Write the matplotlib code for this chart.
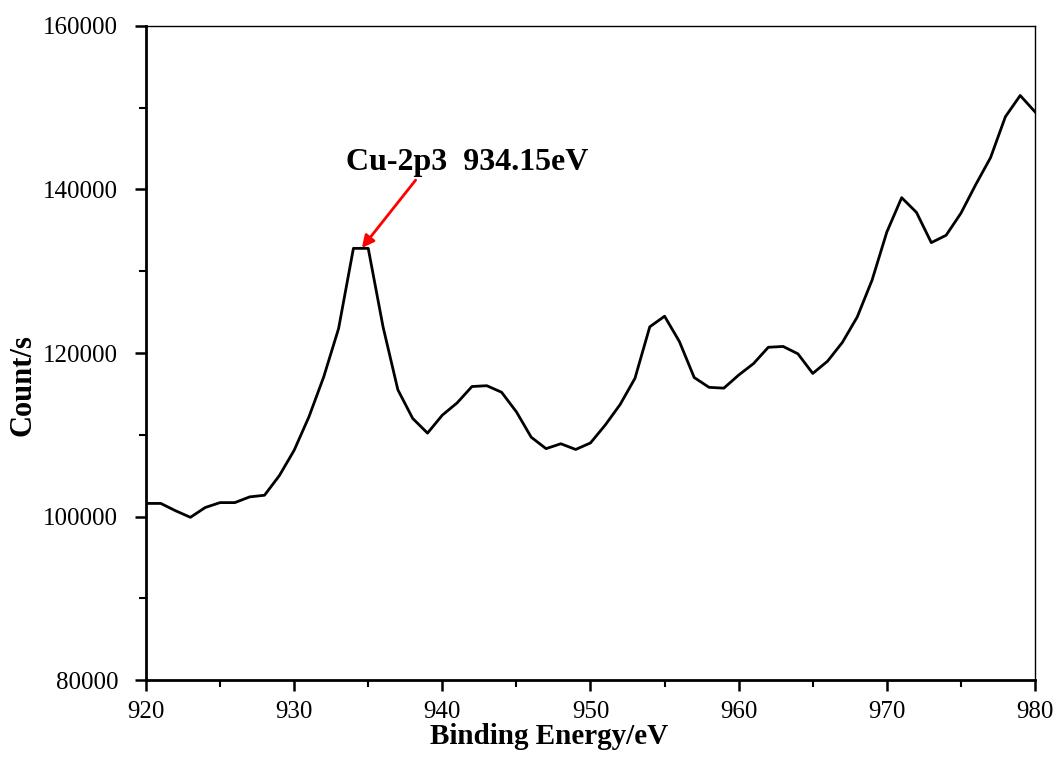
#XPS spectrum of Cu-2p region with labelled peak

import matplotlib
matplotlib.use('Agg')
import matplotlib.pyplot as plt
import numpy as np

#binding energy (eV) and counts
energy = np.arange(920, 981)
counts = [101600, 101600, 100700, 99900, 101100, 101700, 101700, 102400, 102600, 105000,
          108100, 112200, 117100, 123000, 132800, 132800, 123200, 115500, 112000, 110200,
          112400, 113900, 115900, 116000, 115200, 112800, 109700, 108300, 108900, 108200,
          109000, 111200, 113700, 116900, 123200, 124500, 121400, 117000, 115800, 115700,
          117300, 118700, 120700, 120800, 119900, 117500, 119000, 121300, 124400, 128900,
          134800, 139000, 137200, 133500, 134400, 137100, 140600, 143900, 148900, 151500,
          149500]

peak_label = 'Cu-2p3  934.15eV'
label_xy = (941.66, 142400)
arrow_tip = (934.57, 132850)
arrow_tail = (938.2, 141150)

plt.rcParams['font.family'] = ['Liberation Serif', 'DejaVu Serif']

fig = plt.figure(figsize=(10.57, 7.58), dpi=100)
ax = fig.add_axes([0.1381, 0.1029, 0.8411, 0.8628])

ax.plot(energy, counts, color='black', linewidth=2.0)

ax.set_xlim(920, 980)
ax.set_ylim(80000, 160000)
ax.set_xticks(np.arange(920, 981, 10))
ax.set_xticks(np.arange(925, 980, 10), minor=True)
ax.set_yticks(np.arange(80000, 160001, 20000))
ax.set_yticks(np.arange(90000, 160000, 20000), minor=True)

ax.tick_params(which='major', direction='out', length=8, width=1.8, labelsize=18,
               top=False, right=False)
ax.tick_params(which='minor', direction='out', length=5, width=1.5, top=False, right=False)
ax.tick_params(axis='x', pad=7)
ax.tick_params(axis='y', pad=12)

for side in ['left', 'bottom']:
    ax.spines[side].set_linewidth(2)
for side in ['top', 'right']:
    ax.spines[side].set_linewidth(1)

ax.set_xlabel('Binding Energy/eV', fontsize=21, fontweight='bold', labelpad=0)
ax.xaxis.set_label_coords(0.454, -0.066)
ax.set_ylabel('Count/s', fontsize=22, fontweight='bold')
ax.yaxis.set_label_coords(-0.122, 0.451)

#peak label with red arrow
ax.text(label_xy[0], label_xy[1], peak_label, fontsize=23, fontweight='bold',
        ha='center', va='baseline')
ax.annotate('', xy=arrow_tip, xytext=arrow_tail,
            arrowprops=dict(arrowstyle='-|>', color='red', lw=2, mutation_scale=18,
                            shrinkA=0, shrinkB=0))

fig.savefig('out.png', dpi=100)
